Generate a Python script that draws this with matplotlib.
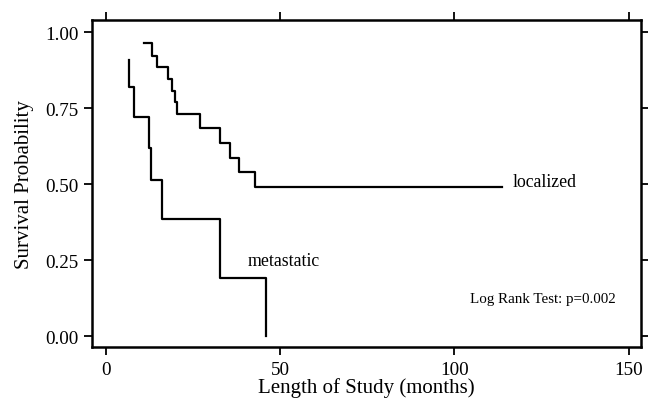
import matplotlib
matplotlib.use('Agg')
import matplotlib.pyplot as plt

plt.rcParams['font.family'] = ['Liberation Serif', 'DejaVu Serif']

# Kaplan-Meier steps (months, survival probability)
loc_time = [10.9, 13.4, 14.7, 17.9, 19.0, 20.0, 20.5, 27.2, 32.9, 35.6, 38.4, 42.8, 113.6]
loc_surv = [0.964, 0.923, 0.884, 0.846, 0.808, 0.770, 0.731, 0.684, 0.636, 0.587, 0.539, 0.492, 0.492]

met_time = [6.8, 6.8, 8.3, 12.5, 13.1, 16.1, 32.7, 46.1]
met_surv = [0.91, 0.82, 0.72, 0.62, 0.515, 0.386, 0.193, 0.0]

xticks = [0, 50, 100, 150]
yticks = [0.0, 0.25, 0.5, 0.75, 1.0]

fig = plt.figure(figsize=(6.48, 4.06), dpi=100)
ax = fig.add_axes([0.1424, 0.1436, 0.8463, 0.8054])

ax.plot(loc_time, loc_surv, drawstyle='steps-post', color='black', lw=1.6)
ax.plot(met_time, met_surv, drawstyle='steps-post', color='black', lw=1.6)

ax.text(116.7, 0.508, 'localized', fontsize=12.8, va='center', ha='left')
ax.text(40.7, 0.25, 'metastatic', fontsize=12.8, va='center', ha='left')
ax.text(104.5, 0.123, 'Log Rank Test: p=0.002', fontsize=10.8, va='center', ha='left')

ax.set_xlim(-3.8, 153.4)
ax.set_ylim(-0.034, 1.041)
ax.set_xticks(xticks)
ax.set_yticks(yticks)
ax.set_yticklabels(['%.2f' % v for v in yticks])
ax.tick_params(direction='out', length=6, width=1.3, labelsize=13.8, pad=4,
               top=True, right=True, labeltop=False, labelright=False)
for s in ax.spines.values():
    s.set_linewidth(1.8)

ax.set_xlabel('Length of Study (months)', fontsize=15, labelpad=0)
ax.set_ylabel('Survival Probability', fontsize=15, labelpad=8)

plt.savefig('out.png', dpi=100)
